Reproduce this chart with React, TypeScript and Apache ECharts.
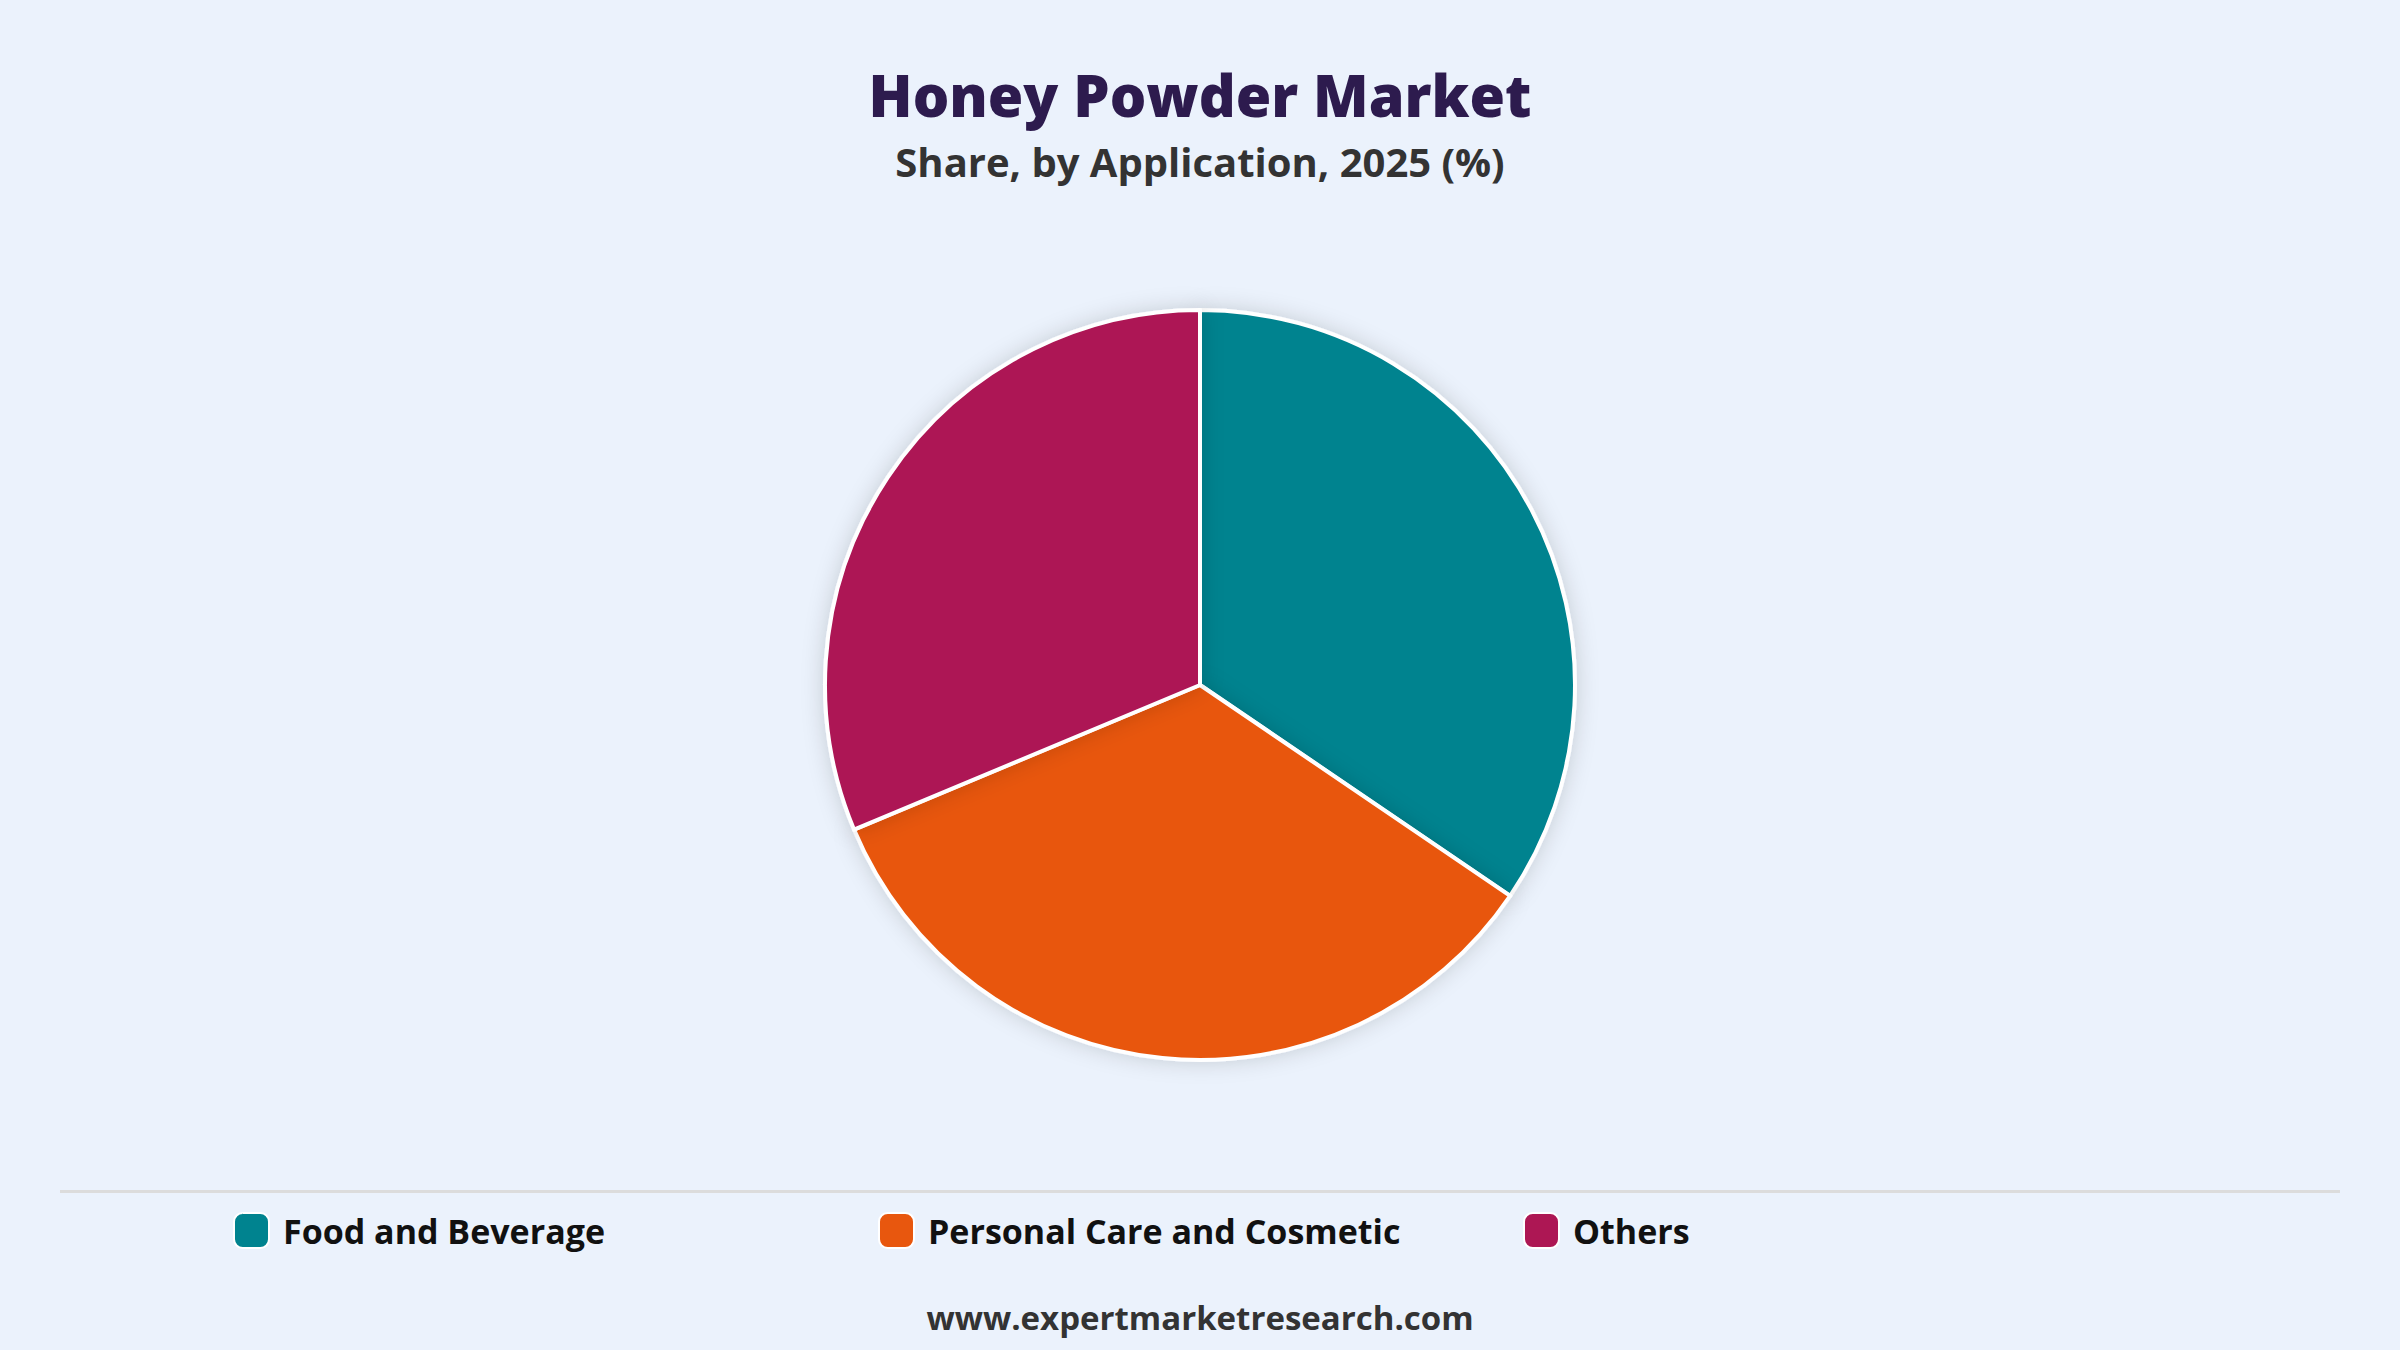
import React, { useEffect, useRef } from "react";
import * as echarts from "echarts";

const categories = ["Food and Beverage", "Personal Care and Cosmetic", "Others"];
const shares = [34.5, 34.2, 31.3];
const colors = ["#00838F", "#E8570E", "#AD1754"];

const titleText = "Honey Powder Market";
const subtitleText = "Share, by Application, 2025 (%)";
const footerText = "www.expertmarketresearch.com";

const FONT = "'Open Sans', 'Noto Sans', sans-serif";

export default function App() {
  const ref = useRef<HTMLDivElement>(null);

  useEffect(() => {
    document.body.style.margin = "0";
    const chart = echarts.init(ref.current!, null, { renderer: "svg" });
    chart.setOption({
      animation: false,
      backgroundColor: "#EBF2FC",
      title: [
        {
          text: titleText,
          left: "center",
          top: 61,
          textStyle: { fontFamily: FONT, fontSize: 57.5, fontWeight: 800, color: "#2D1B4E" },
        },
        {
          text: subtitleText,
          left: "center",
          top: 136,
          textStyle: { fontFamily: FONT, fontSize: 40, fontWeight: "bold", color: "#333333" },
        },
        {
          text: footerText,
          left: "center",
          top: 1296,
          textStyle: { fontFamily: FONT, fontSize: 33, fontWeight: "bold", color: "#333333" },
        },
      ],
      legend: {
        data: categories,
        left: 233,
        top: 1212,
        padding: 0,
        orient: "horizontal",
        itemWidth: 35,
        itemHeight: 35,
        itemGap: 15,
        icon: "roundRect",
        selectedMode: false,
        textStyle: {
          fontFamily: FONT,
          fontSize: 34,
          fontWeight: "bold",
          color: "#111111",
          width: 580,
          lineHeight: 35,
          padding: [0, 0, 0, 9],
        },
      },
      graphic: [
        {
          type: "rect",
          left: 60,
          top: 1190,
          shape: { width: 2280, height: 3 },
          style: { fill: "#DCDCDC" },
          silent: true,
        },
      ],
      series: [
        {
          type: "pie",
          center: [1200, 685],
          radius: 375,
          startAngle: 90,
          clockwise: true,
          label: { show: false },
          labelLine: { show: false },
          emphasis: { disabled: true },
          itemStyle: {
            borderColor: "#FFFFFF",
            borderWidth: 4,
            shadowBlur: 22,
            shadowColor: "rgba(0,0,0,0.16)",
          },
          data: categories.map((name, i) => ({
            name,
            value: shares[i],
            itemStyle: { color: colors[i] },
          })),
        },
      ],
    });
    return () => chart.dispose();
  }, []);

  return <div ref={ref} style={{ width: 2400, height: 1350 }} />;
}
